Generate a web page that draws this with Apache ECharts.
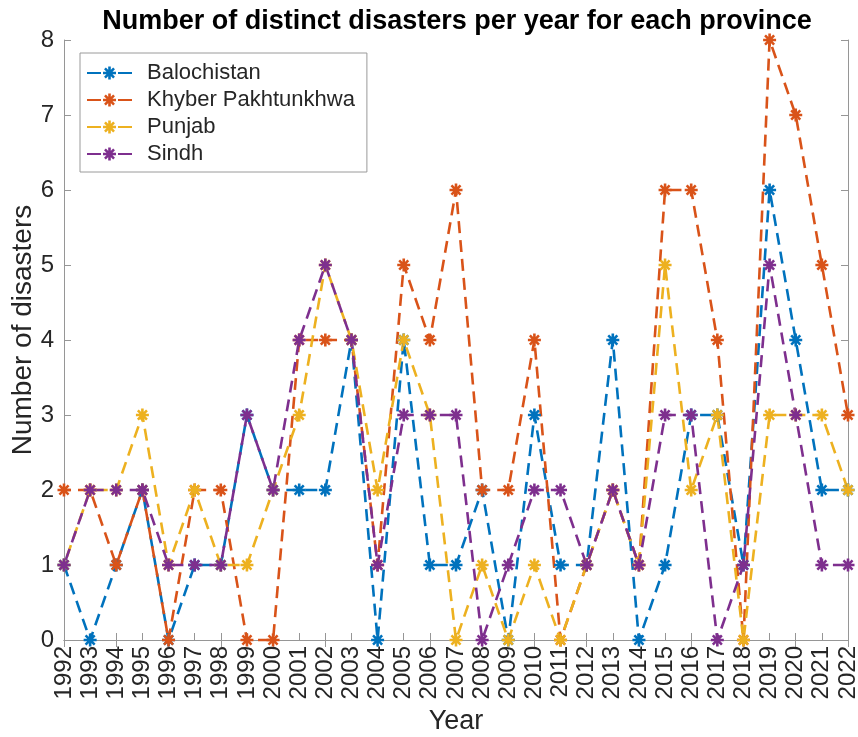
<!DOCTYPE html>
<html><head><meta charset="utf-8">
<script src="https://cdn.jsdelivr.net/npm/echarts@6/dist/echarts.min.js"></script>
<style>html,body{margin:0;padding:0;background:#fff}#c{width:858px;height:737px}</style>
</head><body><div id="c"></div>
<script>
const years = ['1992','1993','1994','1995','1996','1997','1998','1999','2000','2001','2002','2003','2004','2005','2006','2007','2008','2009','2010','2011','2012','2013','2014','2015','2016','2017','2018','2019','2020','2021','2022'];
const seriesNames = ['Balochistan','Khyber Pakhtunkhwa','Punjab','Sindh'];
const balochistan = [1,0,1,2,0,1,1,3,2,2,2,4,0,4,1,1,2,0,3,1,1,4,0,1,3,3,1,6,4,2,2];
const khyber      = [2,2,1,2,0,2,2,0,0,4,4,4,1,5,4,6,2,2,4,0,1,2,1,6,6,4,0,8,7,5,3];
const punjab      = [1,2,2,3,1,2,1,1,2,3,5,4,2,4,3,0,1,0,1,0,1,2,1,5,2,3,0,3,3,3,2];
const sindh       = [1,2,2,2,1,1,1,3,2,4,5,4,1,3,3,3,0,1,2,2,1,2,1,3,3,0,1,5,3,1,1];
const colors = ['#0072BD','#D95319','#EDB120','#7E2F8E'];
const dashOffsets = [0, 5, 10, 14];

const FONT = "'Liberation Sans', Arial, Helvetica, sans-serif";
const AX = '#969696';
const TXT = '#262626';
// asterisk marker: vertical, horizontal and two diagonal arms
const star = 'path://M8 0H12V20H8Z M0 8H20V12H0Z M4.4 1.6L18.4 15.6L15.6 18.4L1.6 4.4Z M18.4 4.4L4.4 18.4L1.6 15.6L15.6 1.6Z';
// legend icon: dash, asterisk, dash (45 x 13 box)
const legendIcon = 'path://M0 5.4H14V7.6H0Z M31 5.4H45V7.6H31Z M21.2 0H23.8V13H21.2Z M16 5.2H29V7.8H16Z M18.86 1.04L27.96 10.14L26.14 11.96L17.04 2.86Z M27.96 2.86L18.86 11.96L17.04 10.14L26.14 1.04Z';

const chart = echarts.init(document.getElementById('c'), null, {renderer: 'canvas'});
const data = [balochistan, khyber, punjab, sindh];
chart.setOption({
  backgroundColor: '#fff',
  animation: false,
  title: {
    text: 'Number of distinct disasters per year for each province',
    left: 452, top: 3, textAlign: 'center',
    textStyle: {fontFamily: FONT, fontSize: 27, fontWeight: 'bold', color: '#000'}
  },
  legend: {
    orient: 'vertical', left: 80, top: 53,
    data: seriesNames.map(n => ({name: n, icon: legendIcon})),
    backgroundColor: '#fff', borderColor: '#9a9a9a', borderWidth: 1,
    padding: [7, 12, 5, 7],
    itemWidth: 45, itemHeight: 13, itemGap: 1,
    textStyle: {fontFamily: FONT, fontSize: 22, color: TXT, lineHeight: 26, padding: [0,0,0,10]}
  },
  grid: {left: 64, right: 10, top: 40, bottom: 97, containLabel: false, outerBoundsMode: 'none'},
  xAxis: [{
    type: 'category', data: years, boundaryGap: false,
    name: 'Year', nameLocation: 'middle', nameGap: 68, nameMoveOverlap: false,
    nameTextStyle: {fontFamily: FONT, fontSize: 27, color: TXT},
    axisLine: {lineStyle: {color: AX, width: 1}},
    axisTick: {inside: true, length: 7, lineStyle: {color: AX}, alignWithLabel: true},
    axisLabel: {rotate: 90, interval: 0, fontFamily: FONT, fontSize: 24, color: TXT, margin: 6},
    splitLine: {show: false}
  }, {
    type: 'category', data: years, boundaryGap: false, position: 'top',
    axisLine: {lineStyle: {color: AX, width: 1}},
    axisTick: {inside: true, length: 7, lineStyle: {color: AX}},
    axisLabel: {show: false}, splitLine: {show: false}
  }],
  yAxis: [{
    type: 'value', min: 0, max: 8, interval: 1,
    name: 'Number of disasters', nameLocation: 'middle', nameGap: 27, nameMoveOverlap: false,
    nameTextStyle: {fontFamily: FONT, fontSize: 28, color: TXT, padding: [0, 0, 0, 20]},
    axisLine: {show: true, lineStyle: {color: AX, width: 1}},
    axisTick: {show: true, inside: true, length: 7, lineStyle: {color: AX}},
    axisLabel: {fontFamily: FONT, fontSize: 24, color: TXT, margin: 10},
    splitLine: {show: false}
  }, {
    type: 'value', min: 0, max: 8, interval: 1, position: 'right',
    axisLine: {show: true, lineStyle: {color: AX, width: 1}},
    axisTick: {show: true, inside: true, length: 7, lineStyle: {color: AX}},
    axisLabel: {show: false}, splitLine: {show: false}
  }],
  series: seriesNames.map((n, i) => ({
    name: n, type: 'line', data: data[i],
    xAxisIndex: 0, yAxisIndex: 0,
    symbol: star, symbolSize: 13, showAllSymbol: true, clip: false,
    lineStyle: {color: colors[i], width: 2.6, type: [12, 7], dashOffset: dashOffsets[i]},
    itemStyle: {color: colors[i]},
    emphasis: {disabled: true}
  }))
});
</script></body></html>
